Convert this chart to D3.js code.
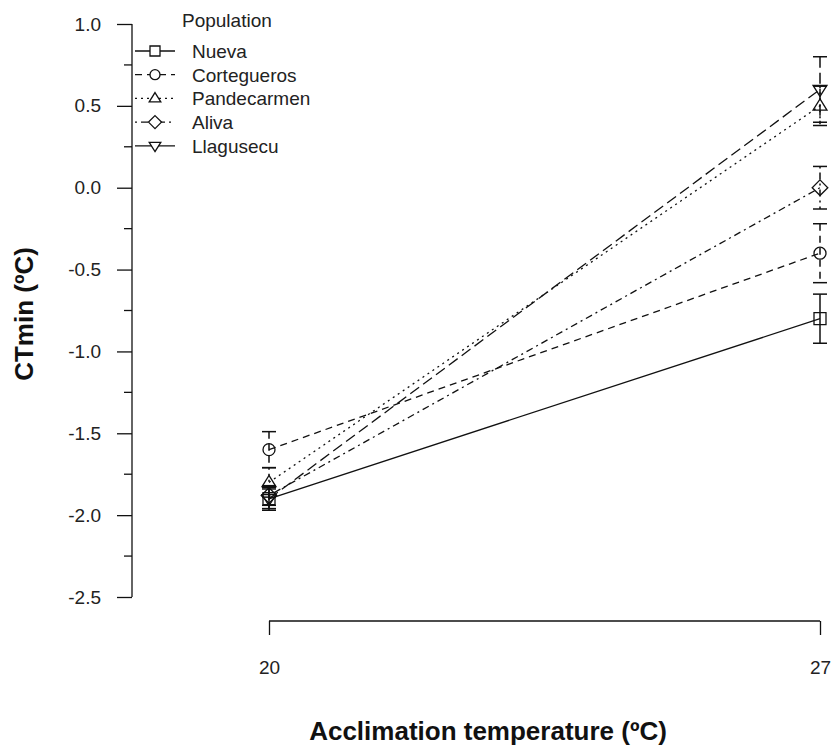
<!DOCTYPE html>
<html>
<head>
<meta charset="utf-8">
<script src="https://cdn.jsdelivr.net/npm/d3@7"></script>
<style>
  html, body { margin: 0; padding: 0; background: #fff; }
  svg { display: block; font-family: "Liberation Sans", Arial, sans-serif; }
</style>
</head>
<body>
<svg id="chart" width="832" height="747"></svg>
<script>
// ---- data ----
const temps = [20, 27];
const populations = ["Nueva", "Cortegueros", "Pandecarmen", "Aliva", "Llagusecu"];
const means20 = [-1.90, -1.60, -1.80, -1.88, -1.90];
const means27 = [-0.80, -0.40, 0.50, 0.00, 0.60];
const se20 = [0.07, 0.11, 0.09, 0.06, 0.06];
const se27 = [0.15, 0.18, 0.12, 0.13, 0.20];
const yTickValues = [-2.5, -2.0, -1.5, -1.0, -0.5, 0.0, 0.5, 1.0];
const yMinorValues = [-2.25, -1.75, -1.25, -0.75, -0.25, 0.25, 0.75];
const xTickValues = [20, 27];

// ---- styles ----
const shapes = ["square", "circle", "triUp", "diamond", "triDown"];
const dashes = ["none", "7,5", "2,4", "2,4,7,4", "11,5"];

const svg = d3.select("#chart");
const x = d3.scaleLinear().domain([20, 27]).range([269, 820]);
const y = d3.scaleLinear().domain([-2.5, 1.0]).range([597, 24]);
const fmt = d => d.toFixed(1).replace("\u2212", "-");

function symbolPath(shape, s) {
  switch (shape) {
    case "square": { const h = s * 0.5; return `M${-h},${-h}H${h}V${h}H${-h}Z`; }
    case "circle": { const r = s * 0.5; return `M${r},0A${r},${r} 0 1,1 ${-r},0A${r},${r} 0 1,1 ${r},0Z`; }
    case "triUp": { const h = s * 0.58; return `M0,${-h}L${h},${h * 0.6}L${-h},${h * 0.6}Z`; }
    case "triDown": { const h = s * 0.58; return `M0,${h}L${h},${-h * 0.6}L${-h},${-h * 0.6}Z`; }
    case "diamond": { const h = s * 0.65; return `M0,${-h}L${h},0L0,${h}L${-h},0Z`; }
  }
}

const series = populations.map((p, i) => ({
  name: p, shape: shapes[i], dash: dashes[i],
  pts: [
    { t: temps[0], m: means20[i], se: se20[i] },
    { t: temps[1], m: means27[i], se: se27[i] }
  ]
}));

// ---- y axis ----
const yAxis = d3.axisLeft(y).tickValues(yTickValues).tickFormat(fmt).tickSize(15).tickPadding(16);
const gy = svg.append("g").attr("transform", "translate(132,0)").call(yAxis);
gy.select(".domain").attr("d", `M0,${y(1.0)}H0V${y(-2.5)}`).attr("stroke", "#111").attr("stroke-width", 1.3);
gy.selectAll(".tick line").attr("stroke", "#111").attr("stroke-width", 1.3);
gy.selectAll(".tick text").attr("font-size", 19).attr("fill", "#222")
  .attr("font-family", "Liberation Sans, Arial, sans-serif");
gy.selectAll(".minor").data(yMinorValues).enter().append("line")
  .attr("class", "minor")
  .attr("x1", -8).attr("x2", 0)
  .attr("y1", d => y(d)).attr("y2", d => y(d))
  .attr("stroke", "#111").attr("stroke-width", 1.3);

// ---- x axis ----
const xAxis = d3.axisBottom(x).tickValues(xTickValues).tickFormat(d3.format("d")).tickSize(14).tickPadding(26);
const gx = svg.append("g").attr("transform", "translate(0,621)").call(xAxis);
gx.select(".domain").attr("d", `M${x(20)},0H${x(27)}`).attr("stroke", "#111").attr("stroke-width", 1.3);
gx.selectAll(".tick line").attr("y1", 0).attr("stroke", "#111").attr("stroke-width", 1.3);
gx.selectAll(".tick text").attr("font-size", 19).attr("fill", "#222")
  .attr("font-family", "Liberation Sans, Arial, sans-serif");

// ---- axis titles ----
svg.append("text").attr("x", 488).attr("y", 740).attr("text-anchor", "middle")
  .attr("font-size", 26).attr("font-weight", "bold").attr("fill", "#111")
  .text("Acclimation temperature (ºC)");
svg.append("text").attr("transform", "translate(33,314) rotate(-90)").attr("text-anchor", "middle")
  .attr("font-size", 26).attr("font-weight", "bold").attr("fill", "#111")
  .text("CTmin (ºC)");

// ---- series lines ----
const line = d3.line().x(d => x(d.t)).y(d => y(d.m));
const gs = svg.append("g");
series.forEach(s => {
  gs.append("path").attr("d", line(s.pts)).attr("fill", "none")
    .attr("stroke", "#111").attr("stroke-width", 1.3)
    .attr("stroke-dasharray", s.dash);
});

// ---- error bars ----
series.forEach(s => {
  s.pts.forEach(p => {
    const cx = x(p.t);
    gs.append("line").attr("x1", cx).attr("x2", cx)
      .attr("y1", y(p.m + p.se)).attr("y2", y(p.m - p.se))
      .attr("stroke", "#111").attr("stroke-width", 1.5)
      .attr("stroke-dasharray", s.dash);
    [p.m + p.se, p.m - p.se].forEach(v => {
      gs.append("line").attr("x1", cx - 7).attr("x2", cx + 7)
        .attr("y1", y(v)).attr("y2", y(v))
        .attr("stroke", "#111").attr("stroke-width", 1.5);
    });
  });
});

// ---- symbols ----
series.forEach(s => {
  s.pts.forEach(p => {
    gs.append("path").attr("d", symbolPath(s.shape, 12))
      .attr("transform", `translate(${x(p.t)},${y(p.m)})`)
      .attr("fill", "none").attr("stroke", "#111").attr("stroke-width", 1.3);
  });
});

// ---- legend ----
const lg = svg.append("g");
lg.append("text").attr("x", 182).attr("y", 27).attr("font-size", 19).attr("fill", "#222")
  .text("Population");
series.forEach((s, i) => {
  const cy = 51 + i * 23.7;
  lg.append("line").attr("x1", 135).attr("x2", 175).attr("y1", cy).attr("y2", cy)
    .attr("stroke", "#111").attr("stroke-width", 1.3).attr("stroke-dasharray", s.dash === "none" ? "none" : (i === 4 ? "none" : s.dash));
  lg.append("path").attr("d", symbolPath(s.shape, 10))
    .attr("transform", `translate(155,${cy})`)
    .attr("fill", "#fff").attr("stroke", "#111").attr("stroke-width", 1.3);
  lg.append("text").attr("x", 192).attr("y", cy + 7).attr("font-size", 19).attr("fill", "#222")
    .text(s.name);
});
</script>
</body>
</html>
